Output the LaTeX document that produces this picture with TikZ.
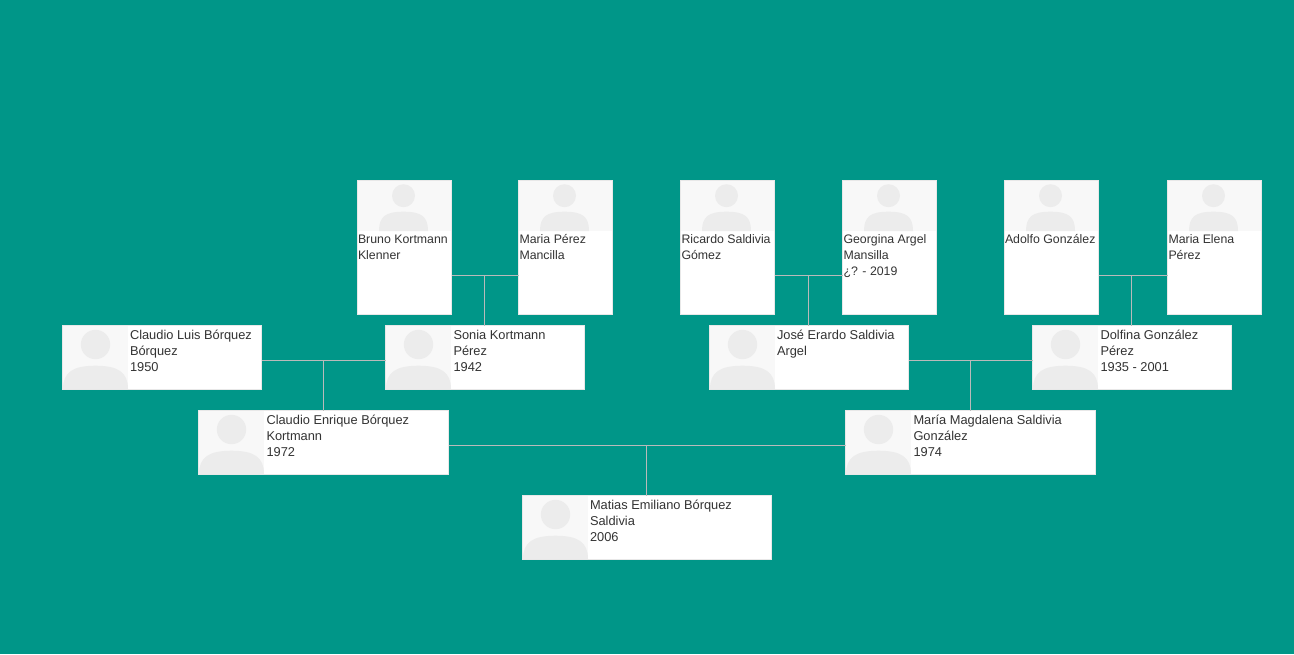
\documentclass[tikz,border=0pt]{standalone}
\usepackage{fontspec}
\setmainfont{Liberation Sans}
\definecolor{bgteal}{HTML}{009688}
\definecolor{cardedge}{HTML}{E8E8E8}
\definecolor{photobg}{HTML}{F8F8F8}
\definecolor{photofg}{HTML}{ECECEC}
\definecolor{inktext}{HTML}{333333}
\definecolor{linkline}{HTML}{BABABA}
\tikzset{
  cardbase/.style={draw=cardedge,line width=0.75pt,fill=white,rectangle,inner sep=0pt,outer sep=0pt,anchor=north west},
  tallcard/.style={cardbase,minimum width=70.5pt,minimum height=100.5pt},
  widecard/.style={cardbase,minimum width=149.25pt,minimum height=48pt},
  broadcard/.style={cardbase,minimum width=187.5pt,minimum height=48pt},
  widetext/.style={anchor=north west,inner sep=0pt,outer sep=0pt,align=left,text=inktext,font=\fontsize{9.62}{12}\selectfont},
  talltext/.style={anchor=north west,inner sep=0pt,outer sep=0pt,align=left,text=inktext,font=\fontsize{9.25}{12}\selectfont},
  link/.style={draw=linkline,line width=0.75pt},
}
\newcommand{\fs}{\rule{0pt}{9pt}}
% \widephoto{x}{y}: photo area of a wide card whose top-left is (x,y)
\newcommand{\widephoto}[2]{%
  \begin{scope}[shift={(#1,#2)}]
    \fill[photobg] (0.5,0.5) rectangle (65.5,63.5);
    \fill[photofg] (33,19) circle (14.7);
    \fill[photofg] (0.5,63.5) .. controls (0.5,47) and (10,40.2) .. (33,40.2) .. controls (56,40.2) and (65.5,47) .. (65.5,63.5) -- cycle;
  \end{scope}}
\newcommand{\tallphoto}[2]{%
  \begin{scope}[shift={(#1,#2)}]
    \fill[photobg] (0.5,0.5) rectangle (93.5,50.5);
    \fill[photofg] (46,15.2) circle (11.5);
    \fill[photofg] (21.5,50.5) .. controls (21.5,36) and (28,31.2) .. (46,31.2) .. controls (64,31.2) and (70.5,36) .. (70.5,50.5) -- cycle;
  \end{scope}}
\begin{document}
\begin{tikzpicture}[x=0.75pt,y=-0.75pt]
\useasboundingbox[fill=bgteal] (0,0) rectangle (1294,654);
% junctions
\coordinate (jA) at (484.5,275.5);
\coordinate (jB) at (808.5,275.5);
\coordinate (jC) at (1131.5,275.5);
\coordinate (jD) at (323.5,360.5);
\coordinate (jE) at (970,360.5);
\coordinate (jF) at (646.5,445.5);
% cards
\node[tallcard] (bruno) at (357.5,180.5) {};
\node[tallcard] (maria) at (518.5,180.5) {};
\node[tallcard] (ricardo) at (680.5,180.5) {};
\node[tallcard] (georgina) at (842.5,180.5) {};
\node[tallcard] (adolfo) at (1004.5,180.5) {};
\node[tallcard] (elena) at (1167.5,180.5) {};
\node[widecard] (luis) at (62.5,325.5) {};
\node[widecard] (sonia) at (385.5,325.5) {};
\node[widecard] (jose) at (709.5,325.5) {};
\node[widecard] (dolfina) at (1032.5,325.5) {};
\node[broadcard] (enrique) at (198.5,410.5) {};
\node[broadcard] (magda) at (845.5,410.5) {};
\node[broadcard,minimum width=186.75pt] (matias) at (522.5,495.5) {};
% connectors
\draw[link] (bruno.east |- jA) -- (maria.west |- jA);
\draw[link] (jA) -- (jA |- sonia.north);
\draw[link] (ricardo.east |- jB) -- (georgina.west |- jB);
\draw[link] (jB) -- (jB |- jose.north);
\draw[link] (adolfo.east |- jC) -- (elena.west |- jC);
\draw[link] (jC) -- (jC |- dolfina.north);
\draw[link] (luis.east |- jD) -- (sonia.west |- jD);
\draw[link] (jD) -- (jD |- enrique.north);
\draw[link] (jose.east |- jE) -- (dolfina.west |- jE);
\draw[link] (jE) -- (jE |- magda.north);
\draw[link] (enrique.east |- jF) -- (magda.west |- jF);
\draw[link] (jF) -- (jF |- matias.north);
% photos
\tallphoto{357.5}{180.5}
\tallphoto{518.5}{180.5}
\tallphoto{680.5}{180.5}
\tallphoto{842.5}{180.5}
\tallphoto{1004.5}{180.5}
\tallphoto{1167.5}{180.5}
\widephoto{62.5}{325.5}
\widephoto{385.5}{325.5}
\widephoto{709.5}{325.5}
\widephoto{1032.5}{325.5}
\widephoto{198.5}{410.5}
\widephoto{845.5}{410.5}
\widephoto{522.5}{495.5}
% texts
\node[talltext] (tbruno) at (358,231.5) {\fs Bruno Kortmann\\Klenner};
\node[talltext] (tmaria) at (519.5,231.5) {\fs Maria Pérez\\Mancilla};
\node[talltext] (tricardo) at (681.5,231.5) {\fs Ricardo Saldivia\\Gómez};
\node[talltext] (tgeorgina) at (843.5,231.5) {\fs Georgina Argel\\Mansilla\\¿? - 2019};
\node[talltext] (tadolfo) at (1005,231.5) {\fs Adolfo González};
\node[talltext] (telena) at (1168.5,231.5) {\fs Maria Elena\\Pérez};
\node[widetext] (tluis) at (130,327) {\fs Claudio Luis Bórquez\\Bórquez\\1950};
\node[widetext] (tsonia) at (453.5,327) {\fs Sonia Kortmann\\Pérez\\1942};
\node[widetext] (tjose) at (777,327) {\fs José Erardo Saldivia\\Argel};
\node[widetext] (tdolfina) at (1100.5,327) {\fs Dolfina González\\Pérez\\1935 - 2001};
\node[widetext] (tenrique) at (266.5,412) {\fs Claudio Enrique Bórquez\\Kortmann\\1972};
\node[widetext] (tmagda) at (913.5,412) {\fs María Magdalena Saldivia\\González\\1974};
\node[widetext] (tmatias) at (590,497) {\fs Matias Emiliano Bórquez\\Saldivia\\2006};
\end{tikzpicture}
\end{document}
